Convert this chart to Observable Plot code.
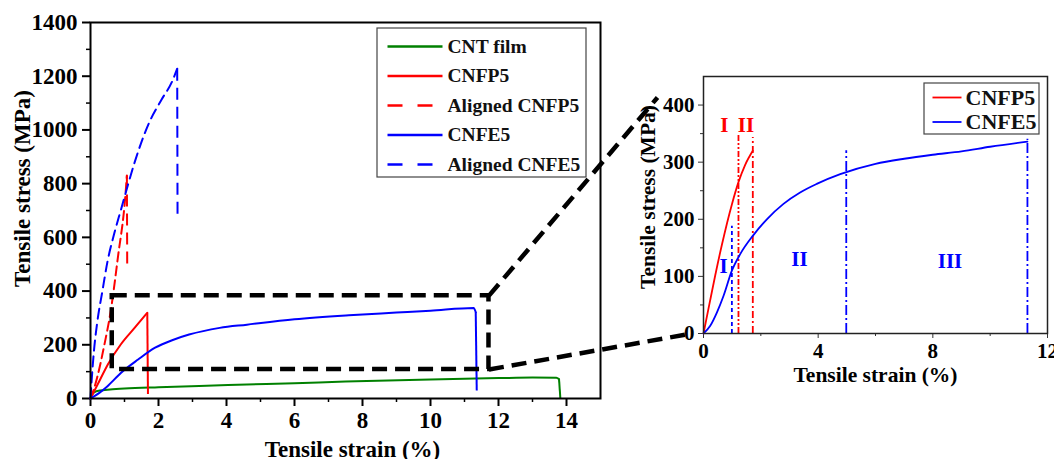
<!DOCTYPE html>
<html><head><meta charset="utf-8">
<script src="https://cdn.jsdelivr.net/npm/d3@7"></script>
<script src="https://cdn.jsdelivr.net/npm/@observablehq/plot@0.6"></script>
<style>
html,body{margin:0;padding:0;background:#fff;overflow:hidden;}
#wrap{position:relative;width:1054px;height:459px;}
#wrap svg{position:absolute;left:0;top:0;font-family:"Liberation Serif", serif !important;}
#wrap svg text{font-family:"Liberation Serif", serif;}
</style></head><body><div id="wrap"></div>
<script>
// ---------- data: main chart ----------
const seriesNames = ["CNT film", "CNFP5", "Aligned CNFP5", "CNFE5", "Aligned CNFE5"];
const cntX   = [0, 0.05, 0.17, 0.5, 1, 2, 3.2, 4.6, 6, 7.5, 10, 12, 13, 13.7, 13.78];
const cntY   = [0, 15, 27, 33, 37, 42, 47, 52, 57, 63, 71, 76, 78, 77, 72];
const cnfp5X = [0, 0.22, 0.51, 0.9, 1.29, 1.67];
const cnfp5Y = [0, 55, 127, 203, 262, 319];
const alCnfp5X = [0, 0.1, 0.2, 0.4, 0.6, 0.8, 1.03, 1.07];
const alCnfp5Y = [0, 35, 80, 195, 330, 520, 762, 830];
const cnfe5X = [0, 0.25, 0.5, 0.9, 1.4, 1.9, 2.4, 2.9, 3.8, 4.6, 6, 7.6, 9, 10, 11.27, 11.33];
const cnfe5Y = [0, 20, 46, 96, 145, 189, 217, 238, 263, 275, 295, 310, 320, 327, 337, 322];
const alCnfe5X = [0, 0.03, 0.1, 0.2, 0.35, 0.5, 0.7, 0.9, 1.1, 1.3, 1.7, 2.1, 2.4, 2.55];
const alCnfe5Y = [0, 60, 175, 285, 400, 510, 615, 705, 795, 880, 1020, 1115, 1180, 1228];
// stress each curve falls to after failure
const breakX = [13.82, 1.69, 1.08, 11.36, 2.56];
const breakY = [0, 17, 485, 30, 688];
// zoom box (strain range, stress range)
const zoomX = [0.64, 11.72];
const zoomY = [108, 383];
const xTicksMain = [0, 2, 4, 6, 8, 10, 12, 14];
const yTicksMain = [0, 200, 400, 600, 800, 1000, 1200, 1400];

// ---------- data: inset ----------
const insetNames = ["CNFP5", "CNFE5"];
const inP5X = [0, 0.2, 0.41, 0.64, 0.99, 1.22, 1.45, 1.72];
const inP5Y = [0, 50, 102, 155, 226, 265, 295, 320];
const inE5X = [0, 0.23, 0.47, 0.7, 0.99, 1.28, 1.72, 2.21, 2.79, 3.37, 3.95, 4.77, 6, 7, 8, 9, 10, 11.3];
const inE5Y = [0, 13, 37, 66, 110, 139, 171, 200, 227, 247, 262, 279, 297, 306, 313, 319, 327, 336];
const stageLineX   = [1.22, 1.72, 0.99, 4.98, 11.3];
const stageLineTop = [350, 343, 188, 320, 340];
const stageLabels = ["I", "II", "I", "II", "III"];
const stageLabelX = [0.73, 1.48, 0.7, 3.35, 8.6];
const stageLabelY = [365, 365, 118, 130, 126];
const xTicksInset = [0, 4, 8, 12];
const yTicksInset = [0, 100, 200, 300, 400];

// ---------- styles / layout ----------
const RED = "#ff0000", BLUE = "#0000ff", GREEN = "#008000";
const seriesColor = [GREEN, RED, RED, BLUE, BLUE];
const seriesDash = [null, null, "9,5", null, "10,6"];
const FONT = "Liberation Serif, serif";
const W = 1054, H = 459;
const M = {l: 90, r: 600, t: 22, b: 398};
const I = {l: 703, r: 1047, t: 76, b: 333};
const mx = d3.scaleLinear([0, 15], [M.l, M.r]);
const my = d3.scaleLinear([0, 1400], [M.b, M.t]);
const fmt = d3.format("d");

const pts = (xs, ys) => xs.map((x, i) => ({x, y: ys[i]}));
const mainSeries = [pts(cntX, cntY), pts(cnfp5X, cnfp5Y), pts(alCnfp5X, alCnfp5Y), pts(cnfe5X, cnfe5Y), pts(alCnfe5X, alCnfe5Y)];
const T = {fontFamily: FONT, fontWeight: "bold"};

const marks = [];
marks.push(Plot.axisX({ticks: d3.range(1, 15, 2), tickSize: 4, tickFormat: () => "", label: null, strokeWidth: 1.5}));
marks.push(Plot.axisX({ticks: xTicksMain, tickSize: 8, tickPadding: 5, tickFormat: fmt, label: null, fontSize: 23, ...T, strokeWidth: 2}));
marks.push(Plot.axisY({ticks: d3.range(100, 1400, 200), tickSize: 4, tickFormat: () => "", label: null, strokeWidth: 1.5}));
marks.push(Plot.axisY({ticks: yTicksMain, tickSize: 8, tickPadding: 5, tickFormat: fmt, label: null, fontSize: 23, ...T, strokeWidth: 2}));
mainSeries.forEach((s, i) => {
  const last = s[s.length - 1];
  marks.push(Plot.line(s, {x: "x", y: "y", stroke: seriesColor[i], strokeWidth: 2, curve: "monotone-x", strokeDasharray: seriesDash[i]}));
  marks.push(Plot.link([{x1: last.x, y1: last.y, x2: breakX[i], y2: breakY[i]}], {x1: "x1", y1: "y1", x2: "x2", y2: "y2", stroke: seriesColor[i], strokeWidth: 2, strokeDasharray: seriesDash[i] ? "12,7" : null}));
});
marks.push(Plot.rect([{}], {x1: zoomX[0], x2: zoomX[1], y1: zoomY[0], y2: zoomY[1], fill: "none", stroke: "black", strokeWidth: 4.5, strokeDasharray: "15,8"}));
const connTop = {x: mx.invert(657), y: my.invert(97)};
const connBot = {x: mx.invert(686), y: my.invert(334)};
marks.push(Plot.link([
  {x1: zoomX[1], y1: zoomY[1], x2: connTop.x, y2: connTop.y},
  {x1: zoomX[1], y1: zoomY[0], x2: connBot.x, y2: connBot.y}
], {x1: "x1", y1: "y1", x2: "x2", y2: "y2", stroke: "black", strokeWidth: 4.5, strokeDasharray: "15,8"}));
const lg = {l: 377, r: 586, t: 28, b: 177, lineL: 387, lineR: 442, textL: 447, rowY: [46, 75.5, 105, 134.5, 164]};
marks.push(Plot.rect([{}], {x1: mx.invert(lg.l), x2: mx.invert(lg.r), y1: my.invert(lg.t), y2: my.invert(lg.b), fill: "white", stroke: "#444", strokeWidth: 1.2}));
seriesNames.forEach((n, i) => {
  const y = my.invert(lg.rowY[i]);
  marks.push(Plot.link([{}], {x1: mx.invert(lg.lineL), x2: mx.invert(lg.lineR), y1: y, y2: y, stroke: seriesColor[i], strokeWidth: 2.5, strokeDasharray: seriesDash[i] ? "15,15" : null}));
  marks.push(Plot.text([n], {x: mx.invert(lg.textL), y, text: d => d, textAnchor: "start", fontSize: 19.5, ...T, fill: "#111"}));
});
marks.push(Plot.frame({stroke: "black", strokeWidth: 2}));
marks.push(Plot.text(["Tensile stress (MPa)"], {frameAnchor: "left", text: d => d, rotate: -90, textAnchor: "middle", lineAnchor: "middle", dx: -68, dy: -22, fontSize: 23, ...T}));
marks.push(Plot.text(["Tensile strain (%)"], {frameAnchor: "bottom", text: d => d, textAnchor: "middle", lineAnchor: "middle", dx: 7, dy: 51, fontSize: 23, ...T}));

const mainPlot = Plot.plot({
  width: W, height: H,
  marginLeft: M.l, marginRight: W - M.r, marginTop: M.t, marginBottom: H - M.b,
  x: {domain: [0, 15]}, y: {domain: [0, 1400]},
  style: {fontFamily: FONT, fontWeight: "bold", background: "white", color: "black", overflow: "visible"},
  marks
});

// ---------- inset ----------
const ix = d3.scaleLinear([0, 12], [I.l, I.r]);
const iy = d3.scaleLinear([0, 450], [I.b, I.t]);
const insetSeries = [pts(inP5X, inP5Y), pts(inE5X, inE5Y)];
const insetColor = [RED, BLUE];
const stageColor = [RED, RED, BLUE, BLUE, BLUE];
const stageDash = ["6,2,2,2,2,2", "7,3,2,3", "4,3", "10,3,2,3", "10,3,2,3"];
const im = [];
im.push(Plot.axisX({ticks: [2, 6, 10], tickSize: 3, tickFormat: () => "", label: null, stroke: "#333"}));
im.push(Plot.axisX({ticks: xTicksInset, tickSize: 5, tickPadding: 5, tickFormat: fmt, label: null, fontSize: 21, ...T, stroke: "#333"}));
im.push(Plot.axisY({ticks: d3.range(50, 450, 100), tickSize: 3, tickFormat: () => "", label: null, stroke: "#333"}));
im.push(Plot.axisY({ticks: yTicksInset, tickSize: 5, tickPadding: 4, tickFormat: fmt, label: null, fontSize: 21, ...T, stroke: "#333"}));
stageLineX.forEach((x, i) => {
  im.push(Plot.ruleX([x], {y1: 0, y2: stageLineTop[i], stroke: stageColor[i], strokeWidth: 1.8, strokeDasharray: stageDash[i]}));
});
insetSeries.forEach((s, i) => {
  im.push(Plot.line(s, {x: "x", y: "y", stroke: insetColor[i], strokeWidth: 1.8, curve: "monotone-x"}));
});
im.push(Plot.text(stageLabels, {x: (d, i) => stageLabelX[i], y: (d, i) => stageLabelY[i], text: d => d, fill: (d, i) => stageColor[i], fontSize: 21, ...T}));
const ilg = {l: 924, r: 1039, t: 83, b: 134, lineL: 932, lineR: 961, textL: 965, rowY: [97, 121.5]};
im.push(Plot.rect([{}], {x1: ix.invert(ilg.l), x2: ix.invert(ilg.r), y1: iy.invert(ilg.t), y2: iy.invert(ilg.b), fill: "white", stroke: "#444", strokeWidth: 1.2}));
insetNames.forEach((n, i) => {
  const y = iy.invert(ilg.rowY[i]);
  im.push(Plot.link([{}], {x1: ix.invert(ilg.lineL), x2: ix.invert(ilg.lineR), y1: y, y2: y, stroke: insetColor[i], strokeWidth: 1.8}));
  im.push(Plot.text([n], {x: ix.invert(ilg.textL), y, text: d => d, textAnchor: "start", fontSize: 22, ...T, fill: "#111"}));
});
im.push(Plot.frame({stroke: "#222", strokeWidth: 1.5}));
im.push(Plot.text(["Tensile stress (MPa)"], {frameAnchor: "left", text: d => d, rotate: -90, textAnchor: "middle", lineAnchor: "middle", dx: -55, dy: -8, fontSize: 21.5, ...T}));
im.push(Plot.text(["Tensile strain (%)"], {frameAnchor: "bottom", text: d => d, textAnchor: "middle", lineAnchor: "middle", dx: 0, dy: 42, fontSize: 21.5, ...T}));

const insetPlot = Plot.plot({
  width: W, height: H,
  marginLeft: I.l, marginRight: W - I.r, marginTop: I.t, marginBottom: H - I.b,
  x: {domain: [0, 12]}, y: {domain: [0, 450]},
  style: {fontFamily: FONT, fontWeight: "bold", background: "transparent", color: "black", overflow: "visible"},
  marks: im
});

const wrap = document.getElementById("wrap");
wrap.appendChild(mainPlot);
wrap.appendChild(insetPlot);
</script></body></html>
